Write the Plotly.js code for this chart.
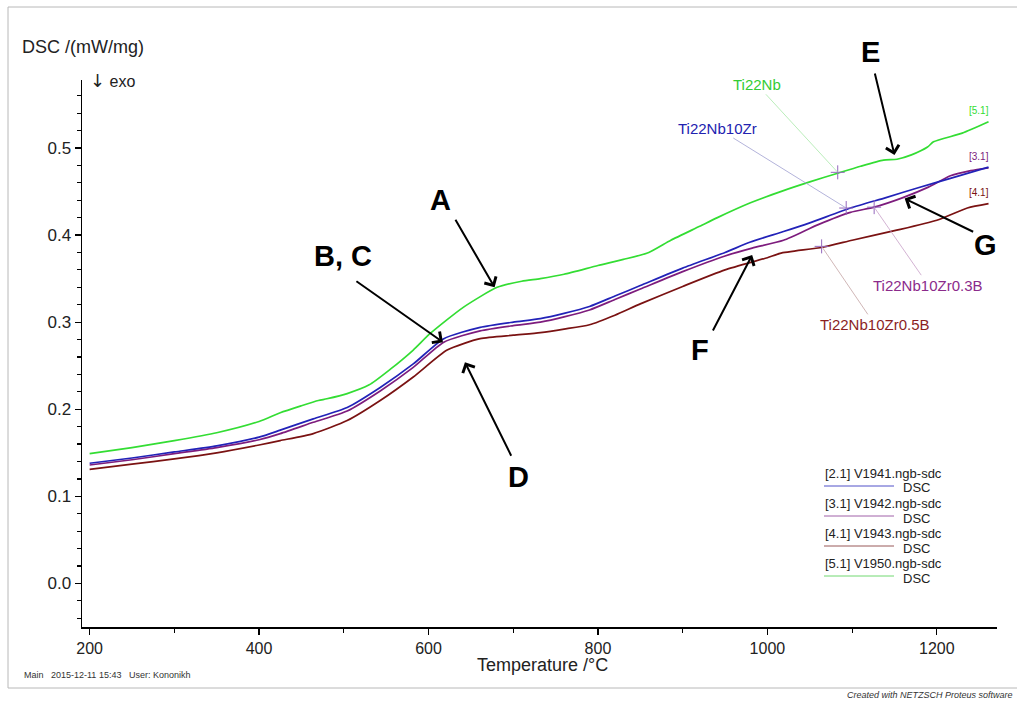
<!DOCTYPE html>
<html><head><meta charset="utf-8">
<script src="https://cdn.plot.ly/plotly-3.0.1.min.js"></script>
<style>html,body{margin:0;padding:0;background:#fff}#c{width:1017px;height:702px}</style>
</head><body><div id="c"></div>
<script>
// ---- data ----
const greenT = [200,250,300,350,400,425,450,470,480,504,530,555,582,602,641,681,710,732,760,800,830,860,886,920,941,980,1019,1050,1083,1110,1137,1153,1170,1189,1196,1230,1261];
const greenY = [0.149,0.156,0.164,0.173,0.186,0.196,0.204,0.210,0.212,0.218,0.228,0.246,0.268,0.287,0.317,0.340,0.347,0.350,0.355,0.365,0.372,0.380,0.394,0.410,0.420,0.437,0.451,0.461,0.471,0.479,0.486,0.487,0.492,0.501,0.507,0.517,0.530];

const blueT = [200,250,300,350,400,425,464,504,543,582,618,661,700,732,760,790,820,850,900,950,980,1019,1050,1098,1140,1177,1216,1261];
const blueY = [0.138,0.144,0.151,0.158,0.168,0.176,0.189,0.202,0.225,0.252,0.281,0.294,0.300,0.304,0.310,0.318,0.330,0.342,0.362,0.380,0.392,0.404,0.414,0.431,0.443,0.454,0.465,0.478];

const purpleT = [200,250,300,350,400,425,464,504,543,582,618,661,700,732,760,790,820,850,900,950,982,1019,1060,1098,1126,1160,1190,1216,1240,1261];
const purpleY = [0.136,0.142,0.149,0.156,0.165,0.172,0.185,0.198,0.221,0.248,0.277,0.290,0.296,0.300,0.306,0.314,0.326,0.338,0.358,0.376,0.385,0.394,0.412,0.426,0.432,0.443,0.455,0.468,0.474,0.477];

const brownT = [200,250,300,350,400,425,464,504,543,582,622,661,700,732,760,790,820,850,900,950,1000,1015,1065,1100,1150,1200,1236,1261];
const brownY = [0.131,0.137,0.143,0.150,0.159,0.164,0.172,0.187,0.210,0.237,0.268,0.281,0.285,0.288,0.292,0.297,0.308,0.321,0.341,0.360,0.374,0.379,0.386,0.394,0.405,0.417,0.431,0.436];

const seriesNames = ["Ti22Nb","Ti22Nb10Zr","Ti22Nb10Zr0.3B","Ti22Nb10Zr0.5B"];
const markerT = [1083,1093,1126,1064];
const markerY = [0.472,0.431,0.432,0.387];
const endTags = ["[5.1]","[3.1]","[4.1]"];
const legendFiles = ["[2.1] V1941.ngb-sdc","[3.1] V1942.ngb-sdc","[4.1] V1943.ngb-sdc","[5.1] V1950.ngb-sdc"];
const arrowLetters = ["A","B, C","D","E","F","G"];
const arrowTipT = [678,617,643,1150,982,1162];
const arrowTipY = [0.340,0.277,0.254,0.492,0.377,0.442];

// ---- styling ----
const C = {green:"#33dd33", blue:"#2222b8", purple:"#7d1c7d", brown:"#7a1212"};
const CT = {green:"#33cc33", blue:"#2222b0", purple:"#8b2b8b", brown:"#8b1f1f"};
const CL = {green:"#a8e8a8", blue:"#a0a0d0", purple:"#c8a0c8", brown:"#c4a4a4"};
const LG = {blue:"#5050c8", purple:"#a060a8", brown:"#985858", green:"#70d870"};
const font = "Liberation Sans, Arial, sans-serif";

const L = 82, R = 20, T = 80, B = 75, W = 1017, H = 702;
const pw = W - L - R, ph = H - T - B;
const px = x => (x - L) / pw;
const py = y => (H - B - y) / ph;

function line(x, y, c, w) {
  return {x: x, y: y, type: "scatter", mode: "lines", line: {color: c, width: w || 1.7, shape: "spline", smoothing: 0.6}, hoverinfo: "skip", showlegend: false};
}
const traces = [
  line(brownT, brownY, C.brown),
  line(purpleT, purpleY, C.purple),
  line(blueT, blueY, C.blue),
  line(greenT, greenY, C.green),
  {x: markerT, y: markerY, type: "scatter", mode: "markers",
   marker: {symbol: "cross-thin-open", size: 10, line: {width: 1, color: ["#226622", "#555577", "#775577", "#775555"]}},
   showlegend: false, hoverinfo: "skip"}
];

const ann = [];
const labCols = [CT.green, CT.blue, CT.purple, CT.brown];
const leadCols = [CL.green, CL.blue, CL.purple, CL.brown];
const labOff = [[-81,-88],[-129,-80],[54,78],[53,78]];
for (let i = 0; i < 4; i++) {
  ann.push({x: markerT[i], y: markerY[i], xref: "x", yref: "y", text: seriesNames[i],
    showarrow: true, arrowhead: 0, arrowwidth: 0.8, arrowcolor: leadCols[i], standoff: 0,
    ax: labOff[i][0], ay: labOff[i][1], font: {family: font, size: 15, color: labCols[i]}});
}
const tagY = [greenY[greenY.length-1], purpleY[purpleY.length-1], brownY[brownY.length-1]];
const tagC = [C.green, C.purple, C.brown];
for (let i = 0; i < 3; i++) {
  ann.push({x: 1261, y: tagY[i], xref: "x", yref: "y", text: endTags[i], showarrow: false,
    xanchor: "right", yanchor: "bottom", yshift: 4, xshift: 2, font: {family: font, size: 10, color: tagC[i]}});
}
const arrOff = [[-40,-69],[-88,-62],[47,95],[-20,-83],[-40,77],[70,34]];
const letPos = [[440,200],[343,256],[518,477],[870,52],[700,350],[985,245]];
for (let i = 0; i < arrowLetters.length; i++) {
  ann.push({x: arrowTipT[i], y: arrowTipY[i], xref: "x", yref: "y", text: "", showarrow: true,
    arrowhead: 4, arrowsize: 1.3, arrowwidth: 2, arrowcolor: "#000", ax: arrOff[i][0], ay: arrOff[i][1], standoff: 0});
  ann.push({x: px(letPos[i][0]), y: py(letPos[i][1]), xref: "paper", yref: "paper", text: "<b>" + arrowLetters[i] + "</b>",
    showarrow: false, xanchor: "center", yanchor: "middle", font: {family: font, size: 29, color: "#000"}});
}
// axis titles
ann.push({x: px(20), y: py(47), xref: "paper", yref: "paper", text: "DSC /(mW/mg)", showarrow: false,
  xanchor: "left", yanchor: "middle", font: {family: font, size: 18, color: "#222"}});
ann.push({x: px(88), y: py(80), xref: "paper", yref: "paper", text: "<span style='font-family:DejaVu Sans;font-size:18px'>↓</span> exo", showarrow: false,
  xanchor: "left", yanchor: "middle", font: {family: font, size: 16, color: "#222"}});
ann.push({x: px(542), y: py(665), xref: "paper", yref: "paper", text: "Temperature /°C", showarrow: false,
  xanchor: "center", yanchor: "middle", font: {family: font, size: 18, color: "#222"}});
// legend box
const legCols = [LG.blue, LG.purple, LG.brown, LG.green];
const shapes = [];
for (let i = 0; i < 4; i++) {
  const y0 = 473 + 30 * i;
  ann.push({x: px(823), y: py(y0), xref: "paper", yref: "paper", text: legendFiles[i], showarrow: false,
    xanchor: "left", yanchor: "middle", font: {family: font, size: 13, color: "#222"}});
  ann.push({x: px(901), y: py(y0 + 15), xref: "paper", yref: "paper", text: "DSC", showarrow: false,
    xanchor: "left", yanchor: "middle", font: {family: font, size: 13, color: "#222"}});
  shapes.push({type: "line", xref: "paper", yref: "paper", x0: px(824), x1: px(894), y0: py(y0 + 13), y1: py(y0 + 13),
    line: {color: legCols[i], width: 1}});
}
// footer
ann.push({x: px(22), y: py(675), xref: "paper", yref: "paper", text: "Main&nbsp;&nbsp;&nbsp;2015-12-11 15:43&nbsp;&nbsp;&nbsp;User: Kononikh",
  showarrow: false, xanchor: "left", yanchor: "middle", font: {family: font, size: 9, color: "#333"}});
ann.push({x: px(1015), y: py(695), xref: "paper", yref: "paper", text: "<i>Created with NETZSCH Proteus software</i>",
  showarrow: false, xanchor: "right", yanchor: "middle", font: {family: font, size: 9, color: "#333"}});
shapes.push({type: "rect", xref: "paper", yref: "paper", x0: px(8), x1: px(1030), y0: py(688), y1: py(7),
  line: {color: "#b8b8b8", width: 1}, fillcolor: "rgba(0,0,0,0)", layer: "below"});

const layout = {
  width: W, height: H, margin: {l: L, r: R, t: T, b: B},
  paper_bgcolor: "#fff", plot_bgcolor: "#fff",
  font: {family: font, color: "#222"},
  showlegend: false,
  xaxis: {range: [191, 1271], showgrid: false, zeroline: false, showline: true, linecolor: "#000", linewidth: 1.5,
    ticks: "outside", ticklen: 6, tickwidth: 1.2, tickcolor: "#000", tick0: 200, dtick: 200,
    minor: {ticks: "outside", ticklen: 4, dtick: 100, tickcolor: "#000"},
    tickfont: {family: font, size: 16, color: "#222"}},
  yaxis: {range: [-0.05, 0.578], showgrid: false, zeroline: false, showline: true, linecolor: "#000", linewidth: 1.5,
    ticks: "outside", ticklen: 6, tickwidth: 1.2, tickcolor: "#000", tick0: 0, dtick: 0.1, tickformat: ".1f",
    minor: {ticks: "outside", ticklen: 4, dtick: 0.02, tickcolor: "#000"},
    tickfont: {family: font, size: 17, color: "#222"}},
  annotations: ann, shapes: shapes
};
Plotly.newPlot("c", traces, layout, {staticPlot: true, displayModeBar: false});
</script></body></html>
